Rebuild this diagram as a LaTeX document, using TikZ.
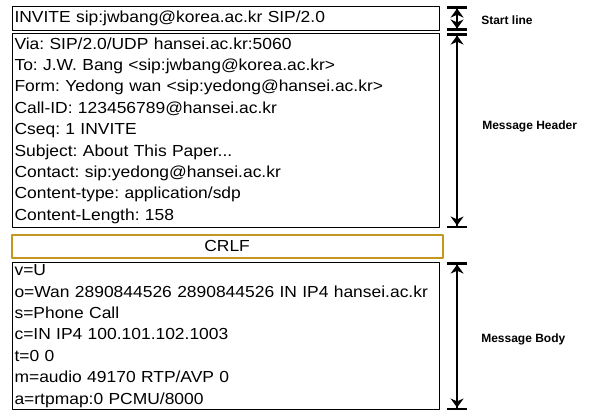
\documentclass[tikz,border=0pt]{standalone}
\usepackage{fontspec}
\setmainfont{Liberation Sans}
\newfontfamily\msgfont{Liberation Sans}[FakeStretch=1.09]
\usetikzlibrary{arrows.meta,positioning}
\definecolor{crlfgold}{RGB}{196,152,32}
\frenchspacing
\begin{document}
\begin{tikzpicture}[x=1pt,y=-1pt,line cap=round,line join=round,
	msgbox/.style={draw,line width=1.1pt,anchor=north west,minimum width=427pt,text width=423pt,inner sep=2pt,align=left,font=\msgfont\fontsize{16pt}{21.4pt}\selectfont},
	crlfbox/.style={draw=crlfgold,line width=2.2pt,anchor=north west,minimum width=431pt,minimum height=23pt,inner sep=2pt,font=\msgfont\fontsize{16pt}{17pt}\selectfont},
	dimline/.style={line width=2.6pt,{Bar[width=20pt,line width=2.6pt]Stealth[length=9pt,width=13pt]}-{Stealth[length=9pt,width=13pt]Bar[width=20pt,line width=2.6pt]}},
	partlbl/.style={anchor=west,inner sep=0pt,font=\fontsize{12pt}{14pt}\bfseries}]
			\useasboundingbox (0,0) rectangle (592,412);
			\node[msgbox,minimum height=24pt] (start) at (12,6) {INVITE sip:jwbang@korea.ac.kr SIP/2.0};
			\node[msgbox,minimum height=194pt] (header) at (12,33) {Via: SIP/2.0/UDP hansei.ac.kr:5060\\
				To: J.W. Bang <sip:jwbang@korea.ac.kr>\\
				Form: Yedong wan <sip:yedong@hansei.ac.kr>\\
				Call-ID: 123456789@hansei.ac.kr\\
				Cseq: 1 INVITE\\
				Subject: About This Paper...\\
				Contact: sip:yedong@hansei.ac.kr\\
				Content-type: application/sdp\\
				Content-Length: 158};
			\node[crlfbox] (crlf) at (10.5,233.5) {CRLF};
			\node[msgbox,minimum height=147pt] (body) at (12,262) {v=U\\
				o=Wan 2890844526 2890844526 IN IP4 hansei.ac.kr\\
				s=Phone Call\\
				c=IN IP4 100.101.102.1003\\
				t=0 0\\
				m=audio 49170 RTP/AVP 0\\
				a=rtpmap:0 PCMU/8000};
			\coordinate (starttop) at ([xshift=17pt]start.north east);
			\coordinate (startbot) at ([xshift=17pt]start.south east);
			\coordinate (headtop) at ([xshift=17pt]header.north east);
			\coordinate (headbot) at ([xshift=17pt]header.south east);
			\coordinate (bodytop) at ([xshift=17pt]body.north east);
			\coordinate (bodybot) at ([xshift=17pt]body.south east);
			\draw[dimline] (starttop) -- (startbot);
			\draw[dimline] (headtop) -- (headbot);
			\draw[dimline] (bodytop) -- (bodybot);
			\node[partlbl,right=41pt of start.east,yshift=-2pt] (startlbl) {Start line};
			\node[partlbl,right=42pt of header.east,yshift=4pt] (headlbl) {Message Header};
			\node[partlbl,right=41pt of body.east,yshift=-3pt] (bodylbl) {Message Body};
\end{tikzpicture}
\end{document}
